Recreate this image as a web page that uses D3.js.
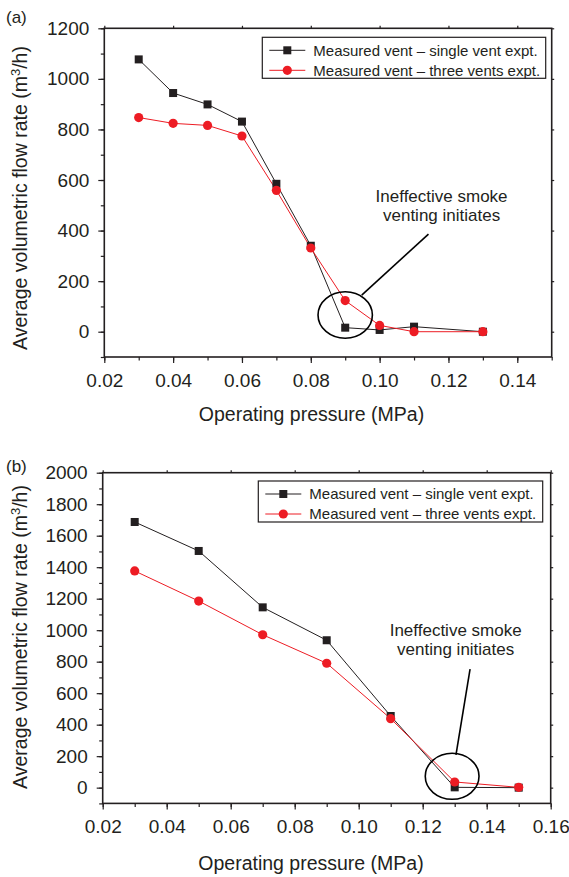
<!DOCTYPE html>
<html>
<head>
<meta charset="utf-8">
<script src="https://cdn.jsdelivr.net/npm/d3@7"></script>
<style>
  body { margin: 0; background: #fff; }
  svg { display: block; font-family: "Liberation Sans", Arial, sans-serif; }
</style>
</head>
<body>
<svg id="chart" width="569" height="877"></svg>
<script>
// ---------------------------------------------
// data
// ---------------------------------------------
var pressureA = [0.03, 0.04, 0.05, 0.06, 0.07, 0.08, 0.09, 0.10, 0.11, 0.13];
var singleA   = [1077, 944, 899, 831, 585, 340, 16, 7, 20, 0];
var threeA    = [847, 824, 816, 774, 559, 331, 123, 25, 0, 0];

var pressureB = [0.03, 0.05, 0.07, 0.09, 0.11, 0.13, 0.15];
var singleB   = [1687, 1503, 1145, 936, 455, 2, 0];
var threeB    = [1376, 1185, 971, 790, 438, 36, 2];

var xTicksA = [0.02, 0.04, 0.06, 0.08, 0.10, 0.12, 0.14];
var yTicksA = [0, 200, 400, 600, 800, 1000, 1200];
var xTicksB = [0.02, 0.04, 0.06, 0.08, 0.10, 0.12, 0.14, 0.16];
var yTicksB = [0, 200, 400, 600, 800, 1000, 1200, 1400, 1600, 1800, 2000];

var seriesNames = ["Measured vent \u2013 single vent expt.", "Measured vent \u2013 three vents expt."];
var noteLines = ["Ineffective smoke", "venting initiates"];

var INK = "#231f20";
var RED = "#ed1c24";

var svg = d3.select("#chart");

// ---------------------------------------------
// one panel
// ---------------------------------------------
function drawPanel(cfg){
	var g = svg.append("g");
	var x = d3.scaleLinear().domain(cfg.xDomain).range([cfg.left, cfg.right]);
	var y = d3.scaleLinear().domain(cfg.yDomain).range([cfg.bottom, cfg.top]);

	var xMinor = d3.range(cfg.xDomain[0], cfg.xDomain[1] + 1e-9, 0.01);
	var yMinor = d3.range(cfg.yDomain[0], cfg.yDomain[1] + 1e-9, 100);

	function tidy(s){
		s.select(".domain").remove();
		s.selectAll("line").attr("stroke", INK).attr("stroke-width", 1.2);
	}

	// frame
	g.append("rect")
		.attr("x", cfg.left).attr("y", cfg.top)
		.attr("width", cfg.right - cfg.left).attr("height", cfg.bottom - cfg.top)
		.attr("fill", "none").attr("stroke", INK).attr("stroke-width", 1.6);

	// bottom axis
	var gx = g.append("g").attr("transform", "translate(0," + cfg.bottom + ")")
		.call(d3.axisBottom(x).tickValues(cfg.xTicks).tickFormat(d3.format(".2f")).tickSize(6).tickPadding(9))
		.call(tidy);
	gx.selectAll("text").attr("fill", INK).style("font-size", "19px").attr("dy", "0.78em");
	g.append("g").attr("transform", "translate(0," + cfg.bottom + ")")
		.call(d3.axisBottom(x).tickValues(xMinor).tickSize(3.5).tickFormat(""))
		.call(tidy);

	// left axis
	var gy = g.append("g").attr("transform", "translate(" + cfg.left + ",0)")
		.call(d3.axisLeft(y).tickValues(cfg.yTicks).tickFormat(d3.format("d")).tickSize(6).tickPadding(9))
		.call(tidy);
	gy.selectAll("text").attr("fill", INK).style("font-size", "19px");
	g.append("g").attr("transform", "translate(" + cfg.left + ",0)")
		.call(d3.axisLeft(y).tickValues(yMinor).tickSize(3.5).tickFormat(""))
		.call(tidy);

	// top and right mirror ticks (short, outward)
	g.append("g").attr("transform", "translate(0," + cfg.top + ")")
		.call(d3.axisTop(x).tickValues(cfg.xTicks).tickSize(2.5).tickFormat(""))
		.call(tidy);
	g.append("g").attr("transform", "translate(" + cfg.right + ",0)")
		.call(d3.axisRight(y).tickValues(cfg.yTicks).tickSize(2.5).tickFormat(""))
		.call(tidy);

	// axis titles
	g.append("text")
		.attr("x", cfg.xTitleX).attr("y", cfg.xTitleY)
		.attr("text-anchor", "middle").attr("fill", INK).style("font-size", "19.5px")
		.text("Operating pressure (MPa)");
	var yt = g.append("text")
		.attr("transform", "translate(" + cfg.yTitleX + "," + cfg.yTitleY + ") rotate(-90)")
		.attr("text-anchor", "middle").attr("fill", INK).style("font-size", "19.5px");
	yt.append("tspan").text("Average volumetric flow rate (m");
	yt.append("tspan").attr("dy", -7).style("font-size", "13px").text("3");
	yt.append("tspan").attr("dy", 7).text("/h)");

	// panel label
	g.append("text").attr("x", 6).attr("y", cfg.labelY)
		.attr("fill", INK).style("font-size", "17px").text(cfg.label);

	// series
	var line = d3.line().x(function(d){ return x(d[0]); }).y(function(d){ return y(d[1]); });
	var black = d3.zip(cfg.px, cfg.single);
	var red = d3.zip(cfg.px, cfg.three);

	g.append("path").datum(black).attr("d", line)
		.attr("fill", "none").attr("stroke", INK).attr("stroke-width", 1);
	g.append("path").datum(red).attr("d", line)
		.attr("fill", "none").attr("stroke", RED).attr("stroke-width", 1);

	g.selectAll(".sq").data(black).enter().append("rect")
		.attr("x", function(d){ return x(d[0]) - 4; })
		.attr("y", function(d){ return y(d[1]) - 4; })
		.attr("width", 8).attr("height", 8).attr("fill", INK);
	g.selectAll(".ci").data(red).enter().append("circle")
		.attr("cx", function(d){ return x(d[0]); })
		.attr("cy", function(d){ return y(d[1]); })
		.attr("r", 4.6).attr("fill", RED);

	// legend
	var lg = g.append("g");
	lg.append("rect")
		.attr("x", cfg.legX).attr("y", cfg.legY)
		.attr("width", cfg.legW).attr("height", 41)
		.attr("fill", "#fff").attr("stroke", INK).attr("stroke-width", 1.2);
	seriesNames.forEach(function(name, i){
		var ry = cfg.legY + 13 + i * 20;
		var col = i === 0 ? INK : RED;
		lg.append("line")
			.attr("x1", cfg.legX + 7).attr("x2", cfg.legX + 43)
			.attr("y1", ry).attr("y2", ry)
			.attr("stroke", col).attr("stroke-width", 1);
		if (i === 0){
			lg.append("rect").attr("x", cfg.legX + 21).attr("y", ry - 4)
				.attr("width", 8).attr("height", 8).attr("fill", col);
		} else {
			lg.append("circle").attr("cx", cfg.legX + 25).attr("cy", ry)
				.attr("r", 4.6).attr("fill", col);
		}
		lg.append("text")
			.attr("x", cfg.legX + 51).attr("y", ry + 5.3)
			.attr("fill", INK).style("font-size", "15px")
			.text(name);
	});

	// annotation
	var n = cfg.note;
	g.append("ellipse")
		.attr("cx", x(n.cx)).attr("cy", y(n.cy))
		.attr("rx", x(n.cx + n.rx) - x(n.cx)).attr("ry", y(n.cy) - y(n.cy + n.ry))
		.attr("fill", "none").attr("stroke", "#000").attr("stroke-width", 1.6);
	g.append("line")
		.attr("x1", x(n.lx1)).attr("y1", y(n.ly1))
		.attr("x2", x(n.lx2)).attr("y2", y(n.ly2))
		.attr("stroke", "#000").attr("stroke-width", 1.6);
	noteLines.forEach(function(t, i){
		g.append("text")
			.attr("x", x(n.tx)).attr("y", y(n.ty[i]))
			.attr("text-anchor", "middle").attr("fill", INK).style("font-size", "17px")
			.text(t);
	});
}

drawPanel({
	label: "(a)", labelY: 23,
	left: 104.3, right: 551.7, top: 28.3, bottom: 357,
	xDomain: [0.02, 0.15], yDomain: [-100, 1200],
	xTicks: xTicksA, yTicks: yTicksA,
	px: pressureA, single: singleA, three: threeA,
	xTitleX: 311.5, xTitleY: 421, yTitleX: 27, yTitleY: 198,
	legX: 262.3, legY: 37.3, legW: 283.4,
	note: { cx: 0.09, cy: 66, rx: 0.0079, ry: 92,
	        lx1: 0.0948, ly1: 145, lx2: 0.1142, ly2: 386,
	        tx: 0.118, ty: [514, 439] }
});

drawPanel({
	label: "(b)", labelY: 472,
	left: 102.7, right: 550.7, top: 472.7, bottom: 803.4,
	xDomain: [0.02, 0.16], yDomain: [-100, 2000],
	xTicks: xTicksB, yTicks: yTicksB,
	px: pressureB, single: singleB, three: threeB,
	xTitleX: 311, xTitleY: 870, yTitleX: 27, yTitleY: 637,
	legX: 258.3, legY: 481, legW: 284.4,
	note: { cx: 0.1292, cy: 72, rx: 0.0084, ry: 146,
	        lx1: 0.1304, ly1: 208, lx2: 0.1348, ly2: 752,
	        tx: 0.1303, ty: [963, 842] }
});
</script>
</body>
</html>
